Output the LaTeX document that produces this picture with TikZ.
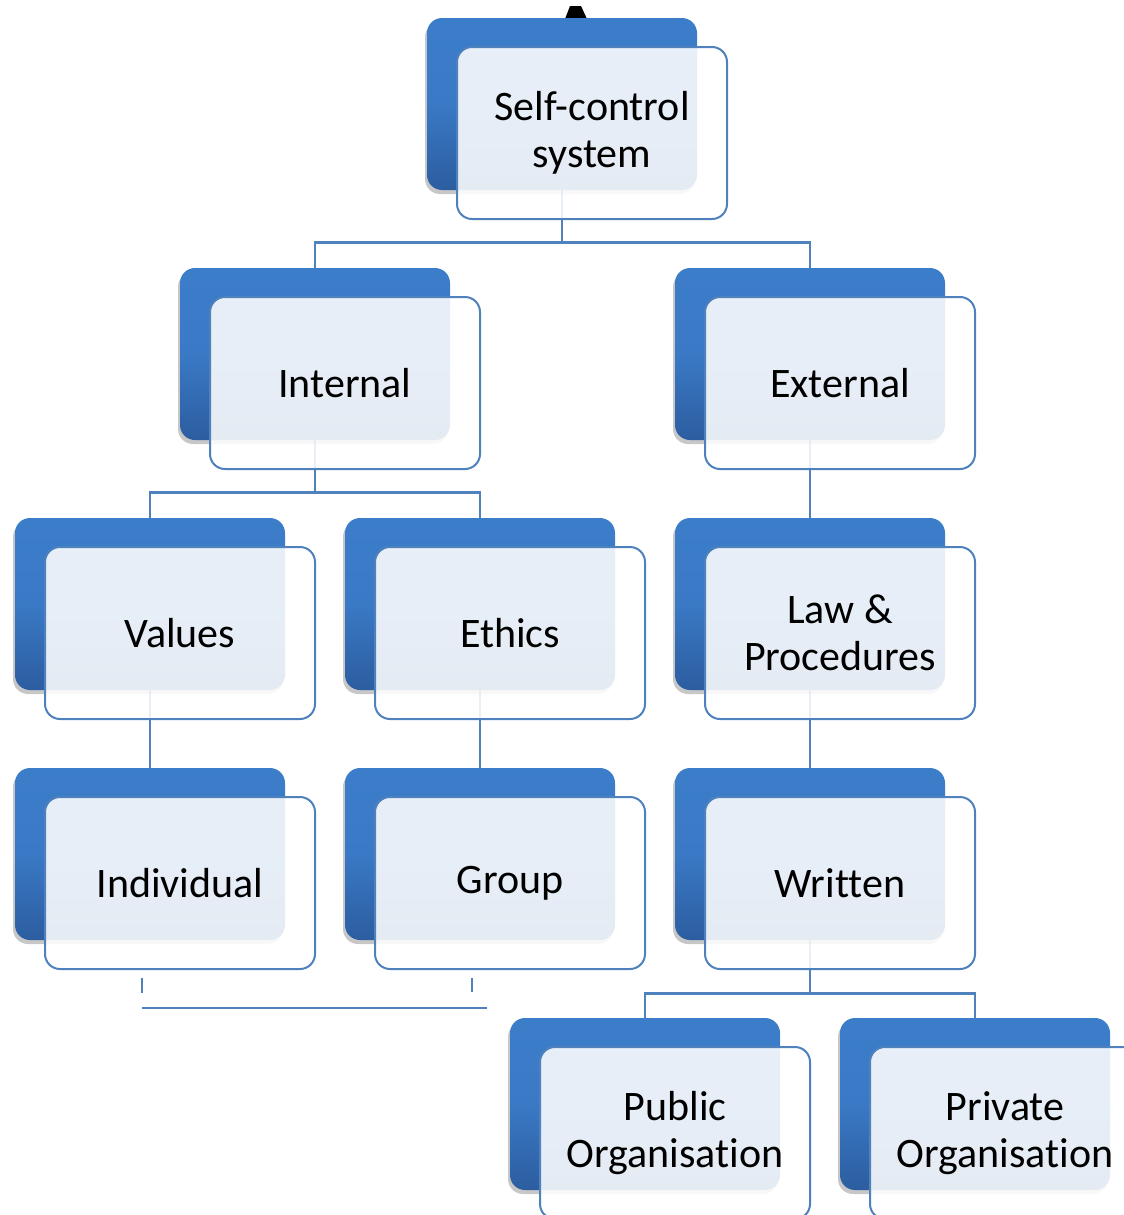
\documentclass[tikz,border=0pt]{standalone}
\usepackage{fontspec}
\setmainfont{Carlito}[Ligatures={NoCommon}]
\usetikzlibrary{shadows,backgrounds}

\definecolor{boxtop}{RGB}{60,125,202}
\definecolor{boxmid}{RGB}{58,121,197}
\definecolor{boxbot}{RGB}{44,93,160}
\definecolor{edge}{RGB}{79,129,189}

\begin{document}
\begin{tikzpicture}[x=0.5pt,y=-0.5pt,
    back/.style={rectangle,rounded corners=7.5pt,minimum width=135pt,minimum height=86pt,
        top color=boxtop,bottom color=boxbot,middle color=boxmid,
        drop shadow={shadow xshift=-1pt,shadow yshift=-2pt,opacity=0.22,fill=black}},
    front/.style={rectangle,rounded corners=7.5pt,minimum width=135pt,minimum height=86pt,
        draw=edge,line width=1pt,fill=white,fill opacity=0.88,text opacity=1,
        align=center,font=\fontsize{21}{23.5}\selectfont},
    link/.style={draw=edge,line width=1.2pt},
    stray/.style={draw=edge,line width=1pt},
]
\useasboundingbox (0,0) rectangle (1124,1215);
\clip (0,0) rectangle (1124,1215);

% glyph peeking out above the top box
\fill (565,19) -- (570,6) -- (581,6) -- (587,19) -- cycle;

% level 0
\node[back] (root) at (562,104) {};
% level 1
\node[back] (int) at (315,354) {};
\node[back] (ext) at (810,354) {};
% level 2
\node[back] (val) at (150,604) {};
\node[back] (eth) at (480,604) {};
\node[back] (law) at (810,604) {};
% level 3
\node[back] (ind) at (150,854) {};
\node[back] (grp) at (480,854) {};
\node[back] (wri) at (810,854) {};
% level 4
\node[back] (pub) at (645,1104) {};
\node[back] (pri) at (975,1104) {};

% text boxes
\node[front] (root-t) at ([shift={(30,29)}]root.center) {Self-control\\system};
\node[front] (int-t) at ([shift={(30,29)}]int.center) {Internal};
\node[front] (ext-t) at ([shift={(30,29)}]ext.center) {External};
\node[front] (val-t) at ([shift={(30,29)}]val.center) {Values};
\node[front] (eth-t) at ([shift={(30,29)}]eth.center) {Ethics};
\node[front] (law-t) at ([shift={(30,29)}]law.center) {Law \&\\Procedures};
\node[front] (ind-t) at ([shift={(30,29)}]ind.center) {Individual};
\node[front] (grp-t) at ([shift={(30,29)}]grp.center) {Group};
\node[front] (wri-t) at ([shift={(30,29)}]wri.center) {Written};
\node[front] (pub-t) at ([shift={(30,29)}]pub.center) {Public\\Organisation};
\node[front] (pri-t) at ([shift={(30,29)}]pri.center) {Private\\Organisation};

\begin{scope}[on background layer]
    \draw[link] (root.south) -- ++(0,52) -| (int.north);
    \draw[link] (root.south) -- ++(0,52) -| (ext.north);
    \draw[link] (int.south) -- ++(0,52) -| (val.north);
    \draw[link] (int.south) -- ++(0,52) -| (eth.north);
    \draw[link] (ext.south) -- (law.north);
    \draw[link] (val.south) -- (ind.north);
    \draw[link] (eth.south) -- (grp.north);
    \draw[link] (law.south) -- (wri.north);
    \draw[link] (wri.south) -- ++(0,53) -| (pub.north);
    \draw[link] (wri.south) -- ++(0,53) -| (pri.north);
    % loose strokes under the left branch
    \coordinate (s1) at (142,978);
    \coordinate (s2) at (472,978);
    \coordinate (s3) at (142,1008);
    \coordinate (s4) at (487,1008);
    \draw[stray] (s1) -- ++(0,15);
    \draw[stray] (s2) -- ++(0,14);
    \draw[stray] (s3) -- (s4);
\end{scope}
\end{tikzpicture}
\end{document}
